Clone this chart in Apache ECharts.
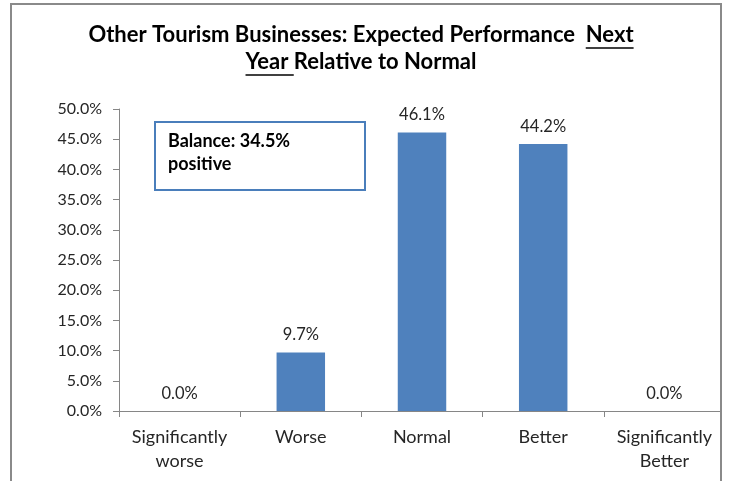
<!DOCTYPE html>
<html>
<head>
<meta charset="utf-8">
<script src="https://cdn.jsdelivr.net/npm/echarts@6/dist/echarts.min.js"></script>
<style>
  html, body { margin: 0; padding: 0; background: #fff; }
  #chart { width: 729px; height: 481px; }
</style>
</head>
<body>
<div id="chart"></div>
<script>
// Survey outcome categories and the share of businesses in each
const categories = ['Significantly\nworse', 'Worse', 'Normal', 'Better', 'Significantly\nBetter'];
const shares = [0.0, 9.7, 46.1, 44.2, 0.0];
const yTicks = { min: 0, max: 50, interval: 5 };
const titleLine1 = 'Other Tourism Businesses: Expected Performance  ';
const titleLine1U = 'Next';
const titleLine2U = 'Year ';
const titleLine2 = 'Relative to Normal';
const balanceNote = 'Balance: 34.5%\npositive';

const FONT = 'Lato, "Open Sans", sans-serif';
const TITLE_SIZE = 22;
const TEXT = '#262626';

function measure(str, size, weight) {
  const c = document.createElement('canvas').getContext('2d');
  c.font = weight + ' ' + size + 'px ' + FONT;
  return c.measureText(str).width;
}

const chart = echarts.init(document.getElementById('chart'));

// Title laid out as two centred lines with underlined words
const cx = 361;
const w1a = measure(titleLine1, TITLE_SIZE, 'bold');
const w1b = measure(titleLine1U, TITLE_SIZE, 'bold');
const w2a = measure(titleLine2U, TITLE_SIZE, 'bold');
const w2b = measure(titleLine2, TITLE_SIZE, 'bold');
const x1 = cx - (w1a + w1b) / 2;
const x2 = cx - (w2a + w2b) / 2;
const y1 = 35, y2 = 62;
const uOff = 13;
const titleStyle = { fontFamily: FONT, fontSize: TITLE_SIZE, fontWeight: 'bold', fill: '#000', textVerticalAlign: 'middle' };

chart.setOption({
  animation: false,
  grid: { left: 119, right: 4, top: 109, bottom: 70 },
  xAxis: {
    type: 'category',
    data: categories,
    axisLine: { lineStyle: { color: '#868686', width: 1 } },
    axisTick: { show: true, length: 6, lineStyle: { color: '#868686' } },
    axisLabel: { interval: 0, color: TEXT, fontFamily: FONT, fontSize: 18, lineHeight: 24, margin: 14 }
  },
  yAxis: {
    type: 'value',
    min: yTicks.min, max: yTicks.max, interval: yTicks.interval,
    splitLine: { show: false },
    axisLine: { show: true, lineStyle: { color: '#868686', width: 1 } },
    axisTick: { show: true, length: 6, lineStyle: { color: '#868686' } },
    axisLabel: { color: TEXT, fontFamily: FONT, fontSize: 16, margin: 17,
      formatter: v => v.toFixed(1) + '%' }
  },
  series: [{
    type: 'bar',
    data: shares,
    barWidth: '40%',
    itemStyle: { color: '#4F81BD' },
    label: {
      show: true, position: 'top', distance: 9,
      color: TEXT, fontFamily: FONT, fontSize: 16.5,
      formatter: p => p.value.toFixed(1) + '%'
    }
  }],
  graphic: [
    { type: 'text', x: x1, y: y1, style: Object.assign({ text: titleLine1 + titleLine1U }, titleStyle) },
    { type: 'line', shape: { x1: x1 + w1a, y1: y1 + uOff, x2: x1 + w1a + w1b, y2: y1 + uOff }, style: { stroke: '#000', lineWidth: 1.5 } },
    { type: 'text', x: x2, y: y2, style: Object.assign({ text: titleLine2U + titleLine2 }, titleStyle) },
    { type: 'line', shape: { x1: x2, y1: y2 + uOff, x2: x2 + w2a, y2: y2 + uOff }, style: { stroke: '#000', lineWidth: 1.5 } },
    // Annotation box with the balance figure
    { type: 'rect', shape: { x: 155, y: 122, width: 210, height: 68 },
      style: { fill: '#fff', stroke: '#4A7EBB', lineWidth: 2 }, z: 10 },
    { type: 'text', x: 168, y: 130, z: 11,
      style: { text: balanceNote, fontFamily: FONT, fontSize: 18, fontWeight: 'bold', fill: '#000', lineHeight: 23 } },
    // Chart frame
    { type: 'rect', shape: { x: 722, y: 0, width: 7, height: 481 }, style: { fill: '#fff' }, z: 20 },
    { type: 'polyline', shape: { points: [[11, 490], [11, 4], [721, 4], [721, 490]] },
      style: { fill: null, stroke: '#8A8A8A', lineWidth: 2 }, z: 21 }
  ]
});
</script>
</body>
</html>
